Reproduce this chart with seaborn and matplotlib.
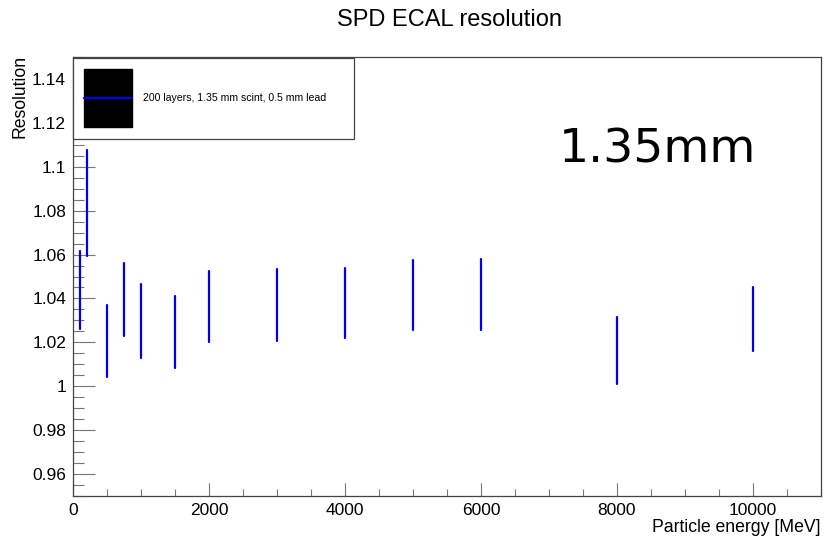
import matplotlib
matplotlib.use("Agg")
import matplotlib.pyplot as plt
import seaborn as sns
import pandas as pd
import numpy as np
from matplotlib.patches import Rectangle
from matplotlib.lines import Line2D
from matplotlib.ticker import MultipleLocator

# ---- data ----
energy = [100, 200, 500, 750, 1000, 1500, 2000, 3000, 4000, 5000, 6000, 8000, 10000]
resolution = [1.0440, 1.0835, 1.0206, 1.0396, 1.0297, 1.0246, 1.0363, 1.0370,
              1.0379, 1.0416, 1.0418, 1.0162, 1.0306]
error = [0.0178, 0.0242, 0.0162, 0.0167, 0.0167, 0.0164, 0.0163, 0.0163,
         0.0161, 0.0158, 0.0162, 0.0152, 0.0145]
series_label = "200 layers, 1.35 mm scint, 0.5 mm lead"
title = "SPD ECAL resolution"
annotation = "1.35mm"
xlabel = "Particle energy [MeV]"
ylabel = "Resolution"

# long table: each error bar as two endpoints
rows = []
for e, r, d in zip(energy, resolution, error):
    rows.append({"E": e, "R": r - d})
    rows.append({"E": e, "R": r + d})
df = pd.DataFrame(rows)

sns.set_theme(style="white")
plt.rcParams["font.family"] = ["Liberation Sans", "DejaVu Sans"]
plt.rcParams["text.color"] = "black"

fig = plt.figure(figsize=(8.25, 5.37), dpi=100)
ax = fig.add_axes([73 / 825, 41 / 537, 748 / 825, 439 / 537])

sns.lineplot(data=df, x="E", y="R", units="E", estimator=None, sort=False,
             color="#0000ee", linewidth=1.6, ax=ax, legend=False)

ax.set_xlim(0, 11000)
ax.set_ylim(0.95, 1.15)
ax.xaxis.set_major_locator(MultipleLocator(2000))
ax.xaxis.set_minor_locator(MultipleLocator(500))
ax.yaxis.set_major_locator(MultipleLocator(0.02))
ax.yaxis.set_minor_locator(MultipleLocator(0.005))

def yfmt(v, pos):
    s = f"{v:.2f}".rstrip("0").rstrip(".")
    return s
ax.yaxis.set_major_formatter(matplotlib.ticker.FuncFormatter(yfmt))

ax.tick_params(axis="y", which="major", direction="in", length=16, width=0.8,
               color="#777777", labelsize=12.5, labelcolor="black", pad=5,
               left=True, right=False)
ax.tick_params(axis="y", which="minor", direction="in", length=8, width=0.8,
               color="#777777", left=True, right=False)
ax.tick_params(axis="x", which="major", direction="in", length=9.5, width=0.8,
               color="#777777", labelsize=12.5, labelcolor="black", pad=5,
               bottom=True, top=False)
ax.tick_params(axis="x", which="minor", direction="in", length=5, width=0.8,
               color="#777777", bottom=True, top=False)

for s in ax.spines.values():
    s.set_visible(True)
    s.set_color("#444444")
    s.set_linewidth(0.9)

ax.set_xlabel("")
ax.set_ylabel("")
fig.text(820 / 825, 1 - 527 / 537, xlabel, ha="right", va="center", fontsize=12.7)
fig.text(20 / 825, 1 - 138 / 537, ylabel, ha="center", va="bottom",
         rotation=90, fontsize=12.7)
fig.text(450 / 825, 1 - 20 / 537, title, ha="center", va="center", fontsize=17)
fig.text(657 / 825, 1 - 150 / 537, annotation, ha="center", va="center",
         fontsize=34, family="DejaVu Sans")

# legend box (ROOT style)
fig.patches.append(Rectangle((73 / 825, 1 - 139 / 537), 281 / 825, 81 / 537,
                             transform=fig.transFigure, facecolor="white",
                             edgecolor="#444444", linewidth=0.9, zorder=5))
fig.patches.append(Rectangle((84 / 825, 1 - 127 / 537), 48 / 825, 58 / 537,
                             transform=fig.transFigure, facecolor="black",
                             edgecolor="black", zorder=6))
fig.lines.append(Line2D([84 / 825, 132 / 825], [1 - 97.7 / 537, 1 - 97.7 / 537],
                        transform=fig.transFigure, color="#0000ee",
                        linewidth=1.6, zorder=7))
fig.text(143 / 825, 1 - 97.7 / 537, series_label, ha="left", va="center",
         fontsize=7.6, zorder=8)

fig.savefig("out.png", dpi=100)
